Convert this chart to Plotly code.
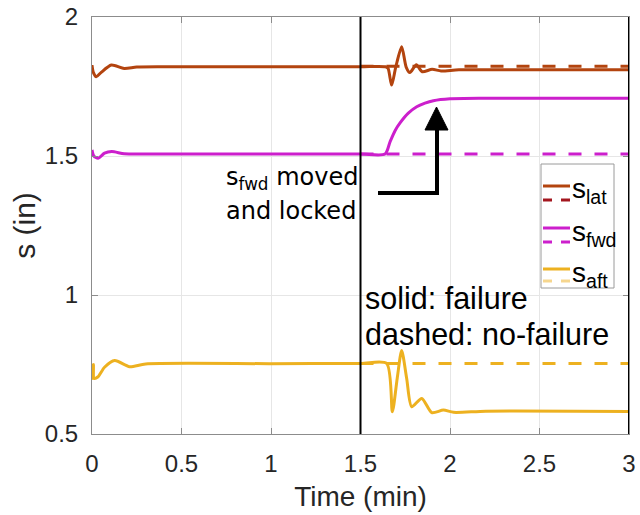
import plotly.graph_objects as go

# ---- data (time in minutes, stroke s in inches) ----
t_lat = [0, 0.008, 0.024, 0.05, 0.108, 0.18, 0.25, 0.4, 1.0, 1.5, 1.64, 1.654, 1.674,
         1.697, 1.73, 1.755, 1.776, 1.812, 1.845, 1.9, 1.95, 2.05, 2.5, 3.0]
s_lat = [1.827, 1.80, 1.785, 1.80, 1.827, 1.815, 1.82, 1.821, 1.821, 1.821, 1.821, 1.815, 1.755,
         1.82, 1.893, 1.82, 1.80, 1.828, 1.803, 1.812, 1.806, 1.81, 1.81, 1.81]

t_fwd = [0, 0.01, 0.034, 0.07, 0.11, 0.18, 0.3, 1.0, 1.5, 1.637, 1.665, 1.693, 1.72,
         1.767, 1.814, 1.86, 1.907, 2.0, 2.2, 3.0]
s_fwd = [1.522, 1.50, 1.492, 1.51, 1.516, 1.508, 1.507, 1.507, 1.507, 1.507, 1.551, 1.591, 1.618,
         1.654, 1.677, 1.69, 1.699, 1.706, 1.708, 1.708]

t_aft = [0, 0.004, 0.008, 0.012, 0.034, 0.07, 0.127, 0.21, 0.3, 1.0, 1.5, 1.646, 1.678,
         1.705, 1.73, 1.758, 1.786, 1.842, 1.898, 1.963, 2.02, 2.2, 3.0]
s_aft = [0.754, 0.70, 0.75, 0.70, 0.706, 0.74, 0.764, 0.742, 0.752, 0.753, 0.754, 0.754, 0.580,
         0.70, 0.800, 0.70, 0.598, 0.628, 0.577, 0.586, 0.578, 0.582, 0.581]

# no-failure reference runs after the failure instant
t_nom = [1.5, 3.0]
s_lat_nom = [1.823, 1.823]
s_fwd_nom = [1.507, 1.507]
s_aft_nom = [0.754, 0.754]

event_times = [1.5, 3.0]

x_ticks = [0, 0.5, 1, 1.5, 2, 2.5, 3]
x_tick_text = ["0", "0.5", "1", "1.5", "2", "2.5", "3"]
y_ticks = [0.5, 1, 1.5, 2]
y_tick_text = ["0.5", "1", "1.5", "2"]

C_LAT, C_LAT_D = "#B3440F", "#A3161E"
C_FWD = "#CC1FCC"
C_AFT, C_AFT_D = "#EDB120", "#F6D68E"

W, H = 640, 515
L, R, T, B = 92, 629, 17, 434  # plot-area edges in pixels


def px(x):
    return (x - L) / (R - L)


def py(y):
    return (B - y) / (B - T)


fig = go.Figure()
dash = "13px,13px"
for t, s, c in [(t_nom, s_lat_nom, C_LAT), (t_nom, s_fwd_nom, C_FWD), (t_nom, s_aft_nom, C_AFT)]:
    fig.add_trace(go.Scatter(x=t, y=s, mode="lines", line=dict(color=c, width=3, dash=dash),
                             showlegend=False, hoverinfo="skip"))
for t, s, c in [(t_lat, s_lat, C_LAT), (t_fwd, s_fwd, C_FWD), (t_aft, s_aft, C_AFT)]:
    fig.add_trace(go.Scatter(x=t, y=s, mode="lines",
                             line=dict(color=c, width=3, shape="spline", smoothing=0.7),
                             showlegend=False, hoverinfo="skip"))

shapes = []
# event markers
for te in event_times:
    shapes.append(dict(type="line", xref="x", yref="paper", x0=te, x1=te, y0=0, y1=1,
                       line=dict(color="black", width=2)))

# elbow arrow pointing at the locked forward stroke
shapes.append(dict(type="path", xref="paper", yref="paper",
                   path=f"M {px(378)} {py(193)} L {px(437)} {py(193)} L {px(437)} {py(128)}",
                   line=dict(color="black", width=4)))
shapes.append(dict(type="path", xref="paper", yref="paper",
                   path=f"M {px(425)} {py(130)} L {px(448)} {py(130)} L {px(436.5)} {py(107)} Z",
                   fillcolor="black", line=dict(color="black", width=1)))

# legend box
shapes.append(dict(type="rect", xref="paper", yref="paper", x0=px(541), x1=px(614),
                   y0=py(288), y1=py(164), fillcolor="white", line=dict(color="#9a9a9a", width=1)))
legend_rows = [("lat", C_LAT, C_LAT_D, 186, 200), ("fwd", C_FWD, C_FWD, 228, 242),
               ("aft", C_AFT, C_AFT_D, 269, 281)]
annotations = []
for name, cs, cd, ys, yd in legend_rows:
    shapes.append(dict(type="line", xref="paper", yref="paper", x0=px(543), x1=px(570),
                       y0=py(ys), y1=py(ys), line=dict(color=cs, width=3)))
    for a, b in [(543, 552), (561, 570)]:
        shapes.append(dict(type="line", xref="paper", yref="paper", x0=px(a), x1=px(b),
                           y0=py(yd), y1=py(yd), line=dict(color=cd, width=3)))
    annotations.append(dict(xref="paper", yref="paper", x=px(570), y=py(ys + 5), xanchor="left",
                            yanchor="middle", showarrow=False,
                            text=f"s<sub>{name}</sub>",
                            font=dict(family="Liberation Sans, Arial", size=28, color="black")))

annotations += [
    dict(xref="paper", yref="paper", x=px(224), y=py(178), xanchor="left", yanchor="middle",
         showarrow=False, text="s<sub>fwd</sub> moved",
         font=dict(family="DejaVu Sans", size=24, color="black")),
    dict(xref="paper", yref="paper", x=px(224), y=py(211), xanchor="left", yanchor="middle",
         showarrow=False, text="and locked",
         font=dict(family="DejaVu Sans", size=24, color="black")),
    dict(xref="paper", yref="paper", x=px(363), y=py(298), xanchor="left", yanchor="middle",
         showarrow=False, text="solid: failure",
         font=dict(family="Liberation Sans, Arial", size=30.5, color="black")),
    dict(xref="paper", yref="paper", x=px(363), y=py(334), xanchor="left", yanchor="middle",
         showarrow=False, text="dashed: no-failure",
         font=dict(family="Liberation Sans, Arial", size=30.5, color="black")),
]

axis_common = dict(showline=True, linecolor="#8c8c8c", linewidth=1, mirror="ticks",
                   ticks="inside", ticklen=6, tickcolor="#8c8c8c", showgrid=True,
                   gridcolor="#e6e6e6", gridwidth=1, zeroline=False,
                   tickfont=dict(family="Liberation Sans, Arial", size=24, color="#262626"))

fig.update_layout(
    width=W, height=H,
    margin=dict(l=L, r=W - R, t=T, b=H - B, autoexpand=False),
    paper_bgcolor="white", plot_bgcolor="white",
    showlegend=False,
    shapes=shapes, annotations=annotations,
    xaxis=dict(range=[0, 3], tickvals=x_ticks, ticktext=x_tick_text, ticklabelstandoff=8,
               title=dict(text="Time (min)", standoff=10,
                          font=dict(family="Liberation Sans, Arial", size=28, color="#262626")),
               **axis_common),
    yaxis=dict(range=[0.5, 2], tickvals=y_ticks, ticktext=y_tick_text, ticklabelstandoff=8,
               title=dict(text="s (in)", standoff=0,
                          font=dict(family="Liberation Sans, Arial", size=30, color="#262626")),
               **axis_common),
)

fig.write_html("out.html")
